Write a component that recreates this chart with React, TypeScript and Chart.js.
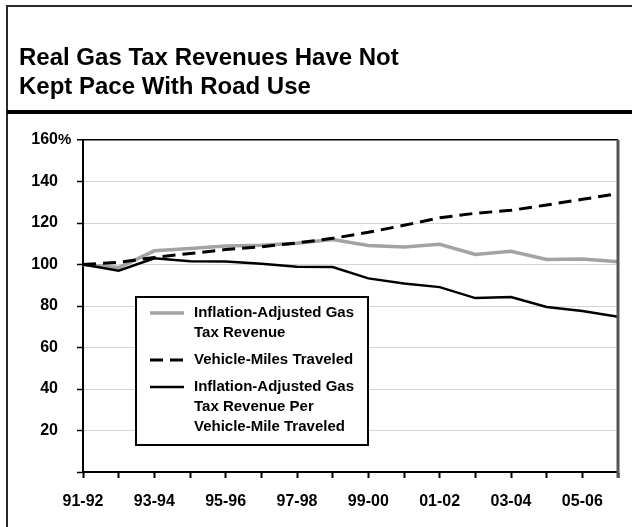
import React, { useEffect, useRef } from "react";
import { Chart, registerables } from "chart.js";

Chart.register(...registerables);

const titleLines = ["Real Gas Tax Revenues Have Not", "Kept Pace With Road Use"];

const categories = [
  "91-92", "92-93", "93-94", "94-95", "95-96", "96-97", "97-98", "98-99",
  "99-00", "00-01", "01-02", "02-03", "03-04", "04-05", "05-06", "06-07",
];
const shownCategoryLabels = ["91-92", "93-94", "95-96", "97-98", "99-00", "01-02", "03-04", "05-06"];

const yMin = 0;
const yMax = 160;
const yStep = 20;

const gasTaxRevenue = [100, 98.5, 106.6, 107.7, 108.9, 109.3, 110.2, 112, 109.2, 108.4, 109.7, 104.8, 106.4, 102.4, 102.6, 101.3];
const vehicleMiles = [100, 101, 103.4, 105.3, 107.2, 108.5, 110.4, 112.6, 115.5, 118.9, 122.5, 124.7, 126.1, 128.7, 131.4, 134.2];
const revenuePerMile = [100, 97, 103, 101.6, 101.4, 100.4, 98.9, 98.8, 93.3, 90.8, 89.1, 83.8, 84.3, 79.5, 77.6, 74.8];

const gasTaxLabel = ["Inflation-Adjusted Gas", "Tax Revenue"];
const vehicleMilesLabel = ["Vehicle-Miles Traveled"];
const perMileLabel = ["Inflation-Adjusted Gas", "Tax Revenue Per", "Vehicle-Mile Traveled"];

const FONT = "'Liberation Sans', Arial, Helvetica, sans-serif";

const framePlugin = {
  id: "frame",
  beforeDraw(chart: any) {
    const ctx = chart.ctx;
    const W = chart.width;
    const H = chart.height;
    ctx.save();
    ctx.fillStyle = "#fff";
    ctx.fillRect(0, 0, W, H);
    ctx.strokeStyle = "#2a2a2a";
    ctx.lineWidth = 2;
    ctx.beginPath();
    ctx.moveTo(7, H);
    ctx.lineTo(7, 6);
    ctx.lineTo(W, 6);
    ctx.stroke();
    ctx.lineWidth = 4;
    ctx.strokeStyle = "#000";
    ctx.beginPath();
    ctx.moveTo(7, 112);
    ctx.lineTo(W, 112);
    ctx.stroke();
    ctx.fillStyle = "#000";
    ctx.font = `bold 24px ${FONT}`;
    ctx.textAlign = "left";
    ctx.textBaseline = "alphabetic";
    ctx.fillText(titleLines[0], 19, 65);
    ctx.fillText(titleLines[1], 19, 94);
    ctx.restore();
  },
  afterDraw(chart: any) {
    const ctx = chart.ctx;
    const area = chart.chartArea;
    const y = chart.scales.y;
    ctx.save();
    ctx.strokeStyle = "#555";
    ctx.lineWidth = 3;
    ctx.beginPath();
    ctx.moveTo(area.right, area.top);
    ctx.lineTo(area.right, area.bottom + 6);
    ctx.stroke();
    ctx.fillStyle = "#000";
    ctx.font = `bold 15px ${FONT}`;
    ctx.textAlign = "left";
    ctx.textBaseline = "middle";
    ctx.fillText("%", y.right - 6 - 19, y.getPixelForValue(yMax));
    ctx.restore();
  },
};

const boxLegendPlugin = {
  id: "boxLegend",
  afterDatasetsDraw(chart: any, _args: any, opts: any) {
    const ctx = chart.ctx;
    const { left, top, right, bottom, lineGap, itemGap, sampleX0, sampleX1, textX, firstY } = opts;
    ctx.save();
    ctx.fillStyle = "#fff";
    ctx.fillRect(left, top, right - left, bottom - top);
    ctx.strokeStyle = "#000";
    ctx.lineWidth = 2;
    ctx.strokeRect(left, top, right - left, bottom - top);
    ctx.font = `bold 15px ${FONT}`;
    ctx.textAlign = "left";
    ctx.textBaseline = "middle";
    let yy = firstY;
    chart.data.datasets.forEach((ds: any) => {
      ctx.save();
      ctx.strokeStyle = ds.borderColor;
      ctx.lineWidth = ds.borderWidth;
      ctx.setLineDash(ds.borderDash || []);
      ctx.beginPath();
      ctx.moveTo(sampleX0, yy);
      ctx.lineTo(sampleX1, yy);
      ctx.stroke();
      ctx.restore();
      ctx.fillStyle = "#000";
      const lines: string[] = ds.legendLines;
      lines.forEach((ln, i) => {
        ctx.fillText(ln, textX, yy + i * lineGap);
      });
      yy += (lines.length - 1) * lineGap + itemGap;
    });
    ctx.restore();
  },
};

export default function App() {
  const ref = useRef<HTMLCanvasElement | null>(null);

  useEffect(() => {
    if (!ref.current) return;
    const chart = new Chart(ref.current, {
      type: "line",
      data: {
        labels: categories,
        datasets: [
          {
            label: gasTaxLabel.join(" "),
            legendLines: gasTaxLabel,
            data: gasTaxRevenue,
            borderColor: "#a3a3a3",
            borderWidth: 3.5,
            pointRadius: 0,
            tension: 0,
            order: 3,
          } as any,
          {
            label: vehicleMilesLabel.join(" "),
            legendLines: vehicleMilesLabel,
            data: vehicleMiles,
            borderColor: "#000",
            borderWidth: 3,
            borderDash: [13, 7],
            pointRadius: 0,
            tension: 0,
            order: 2,
          } as any,
          {
            label: perMileLabel.join(" "),
            legendLines: perMileLabel,
            data: revenuePerMile,
            borderColor: "#000",
            borderWidth: 2.5,
            pointRadius: 0,
            tension: 0,
            order: 1,
          } as any,
        ],
      },
      options: {
        animation: false,
        responsive: true,
        maintainAspectRatio: false,
        layout: { padding: { top: 140, left: 0, right: 13, bottom: 0 } },
        plugins: {
          legend: { display: false },
          tooltip: { enabled: false },
          title: { display: false },
          boxLegend: {
            left: 136,
            top: 297,
            right: 368,
            bottom: 445,
            lineGap: 20,
            itemGap: 27,
            sampleX0: 150,
            sampleX1: 184,
            textX: 194,
            firstY: 313,
          },
        } as any,
        scales: {
          x: {
            type: "category",
            offset: false,
            afterFit: (s: any) => {
              s.height = 55;
            },
            grid: {
              display: true,
              drawOnChartArea: false,
              drawTicks: true,
              tickLength: 6,
              tickColor: "#000",
              tickWidth: 2,
            },
            border: { display: true, color: "#000", width: 2 },
            ticks: {
              autoSkip: false,
              maxRotation: 0,
              minRotation: 0,
              padding: 14,
              color: "#000",
              font: { family: FONT, size: 16, weight: "bold" },
              callback: function (this: any, _v: any, i: number) {
                const lab = categories[i];
                return shownCategoryLabels.includes(lab) ? lab : "";
              },
            },
          },
          y: {
            min: yMin,
            max: yMax,
            afterFit: (s: any) => {
              s.width = 83;
            },
            grid: {
              drawTicks: true,
              tickLength: 6,
              tickColor: "#000",
              tickWidth: 1.5,
              color: (c: any) => (c.tick && c.tick.value === yMax ? "#000" : "#d4d4d4"),
              lineWidth: (c: any) => (c.tick && c.tick.value === yMax ? 1.5 : 1),
            },
            border: { display: true, color: "#000", width: 2 },
            ticks: {
              stepSize: yStep,
              padding: 19,
              color: "#000",
              font: { family: FONT, size: 16, weight: "bold" },
              callback: (v: any) => (v === yMin ? "" : String(v)),
            },
          },
        },
      } as any,
      plugins: [framePlugin, boxLegendPlugin],
    });
    return () => chart.destroy();
  }, []);

  return (
    <div style={{ position: "absolute", left: 0, top: 0, width: 632, height: 527, background: "#fff" }}>
      <canvas ref={ref} />
    </div>
  );
}
